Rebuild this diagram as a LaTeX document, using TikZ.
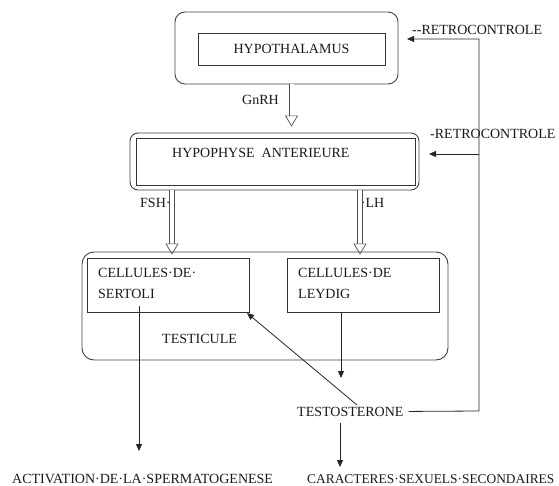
\documentclass[tikz,border=0pt]{standalone}
\usepackage{fontspec}
\setmainfont{Liberation Serif}
\usetikzlibrary{arrows.meta,calc}
\begin{document}
\begin{tikzpicture}[x=1pt,y=-1pt,
  every node/.style={font=\fontsize{14}{16}\selectfont, text=black!90},
  outerbox/.style={draw=black!75, line width=0.9pt, rounded corners=10pt, inner sep=0pt},
  innerbox/.style={draw=black!80, line width=0.9pt, inner sep=0pt},
  lbl/.style={inner sep=0pt, anchor=base west},
  link/.style={draw=black!85, line width=0.8pt},
  tip/.style={-{Triangle[length=7pt,width=6pt]}},
  hollow/.style={draw=black!70, line width=0.7pt, double=white, double distance=4pt,
    -{Triangle[open,length=11pt,width=13pt]}}
]
\useasboundingbox (0,0) rectangle (559,486);

% boxes
\node[outerbox, minimum width=223pt, minimum height=72pt] (hypoOut) at (286.5,48) {};
\node[innerbox, minimum width=187pt, minimum height=32pt] (hypoIn) at (291.5,49) {HYPOTHALAMUS};

\node[outerbox, rounded corners=8pt, minimum width=289pt, minimum height=57pt] (pitOut) at (274.5,161.5) {};
\node[innerbox, minimum width=279pt, minimum height=47pt] (pitIn) at (275.5,161.5) {};
\node[lbl] (pitTxt) at (172,158) {HYPOPHYSE\ \ ANTERIEURE};

\node[outerbox, rounded corners=12pt, minimum width=366pt, minimum height=108pt] (testis) at (265,306) {};
\node[innerbox, minimum width=162pt, minimum height=54pt] (sertoli) at (168,285) {};
\node[innerbox, minimum width=152pt, minimum height=54pt] (leydig) at (363,285) {};

\node[lbl] (sert1) at (98,277) {CELLULES·DE·};
\node[lbl] (sert2) at (98,298) {SERTOLI};
\node[lbl] (ley1) at (298,277) {CELLULES·DE};
\node[lbl] (ley2) at (298,298) {LEYDIG};
\node[lbl] (testTxt) at (162,343) {TESTICULE};

% labels
\node[lbl] (gnrh) at (242,105) {GnRH};
\node[lbl] (fsh) at (140,208) {FSH·};
\node[lbl] (lh) at (356,208) {··LH};
\node[lbl] (retro1) at (412,35) {{-}{-}RETROCONTROLE};
\node[lbl] (retro2) at (430,139) {-RETROCONTROLE};
\node[lbl] (testo) at (297,416) {TESTOSTERONE};
\node[lbl] (act) at (12,483) {ACTIVATION·DE·LA·SPERMATOGENESE};
\node[lbl, font=\fontsize{13.4}{16}\selectfont] (carac) at (307,483) {CARACTERES·SEXUELS·SECONDAIRES};

% coordinates
\coordinate (fshx) at (172,0);
\coordinate (lhx) at (360,0);
\coordinate (sertOut) at (139,306);
\coordinate (actIn) at (139,451);
\coordinate (leyOut) at (341,312);
\coordinate (testoIn) at (341,378);
\coordinate (testoTop) at (357,405);
\coordinate (sertCorner) at (247,313);
\coordinate (testoBot) at (340,423);
\coordinate (caracIn) at (340,467);
\coordinate (fbCorner) at (479,411);
\coordinate (fbTop) at (479,39);
\coordinate (fbMid) at (479,154);
\coordinate (hypoTip) at (407,39);
\coordinate (pitTip) at (429,154);

% hollow arrows
\draw[hollow] (hypoIn.south |- hypoOut.south) -- ($(hypoIn.south |- pitOut.north)+(0,-6)$);
\draw[hollow] (fshx |- pitOut.south) -- ($(fshx |- sertoli.north)+(0,-3)$);
\draw[hollow] (lhx |- pitOut.south) -- ($(lhx |- leydig.north)+(0,-3)$);

% thin arrows
\draw[link,tip] (sertOut) -- (actIn);
\draw[link,tip] (leyOut) -- (testoIn);
\draw[link,tip] (testoTop) -- (sertCorner);
\draw[link,tip] (testoBot) -- (caracIn);
\draw[link,tip] ($(testo.east)+(5,0)$) -- (fbCorner) -- (fbTop) -- (hypoTip);
\draw[link,tip] (fbMid) -- (pitTip);
\end{tikzpicture}
\end{document}
